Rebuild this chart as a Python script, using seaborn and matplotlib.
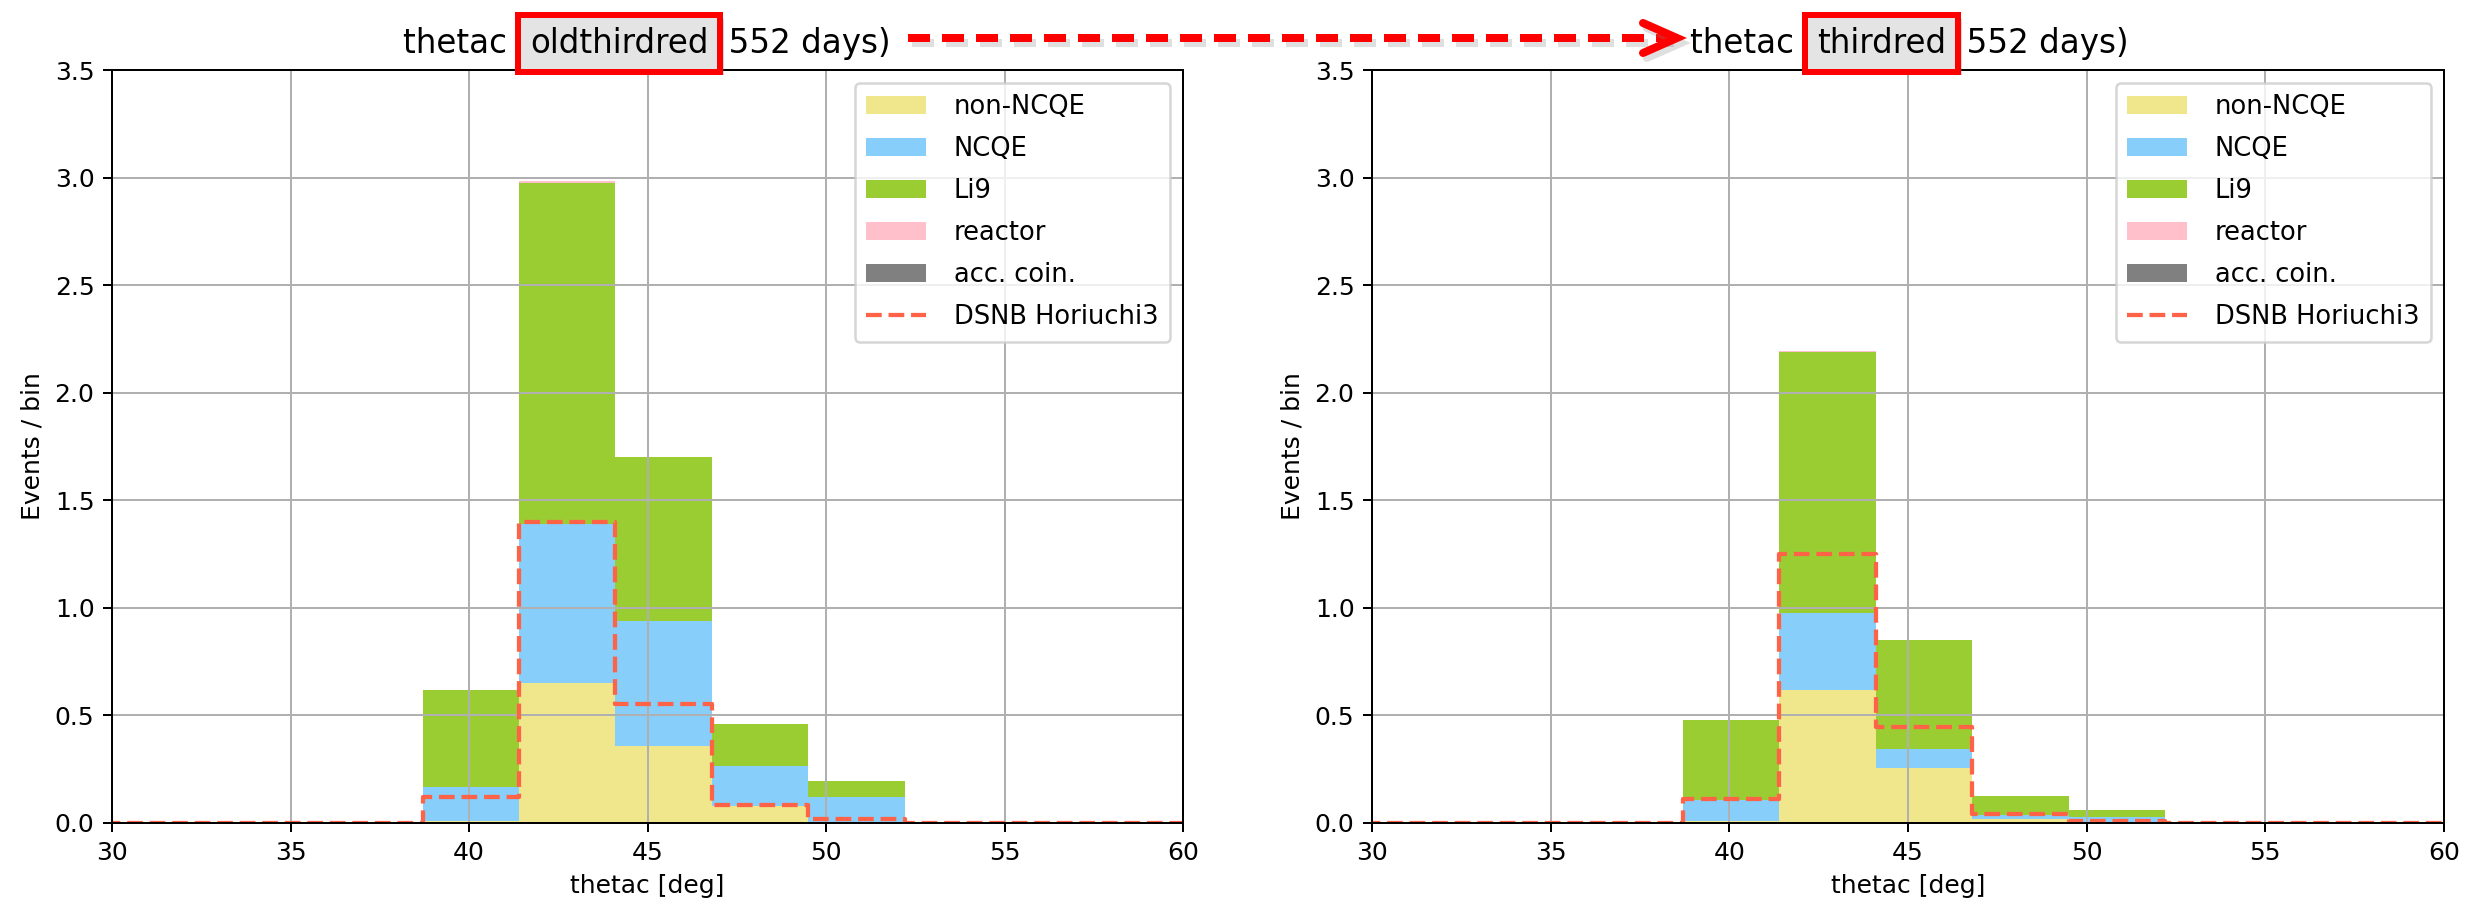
import numpy as np
import pandas as pd
import matplotlib
matplotlib.use("Agg")
import matplotlib.pyplot as plt
import seaborn as sns
from matplotlib.patches import Patch
from matplotlib.lines import Line2D
import matplotlib.patheffects as pe

# ---------------- data ----------------
bin_edges = [27.9, 30.6, 33.3, 36.0, 38.7, 41.4, 44.1, 46.8, 49.5, 52.2, 54.9, 57.6, 60.3]
components = ["non-NCQE", "NCQE", "Li9", "reactor", "acc. coin."]
comp_colors = ["khaki", "lightskyblue", "yellowgreen", "pink", "gray"]

# left panel: oldthirdred (per-component contributions per bin)
old_non_ncqe = [0, 0, 0, 0, 0.011, 0.652, 0.360, 0.081, 0.004, 0, 0, 0]
old_ncqe     = [0, 0, 0, 0, 0.155, 0.740, 0.580, 0.185, 0.116, 0, 0, 0]
old_li9      = [0, 0, 0, 0, 0.454, 1.585, 0.760, 0.192, 0.077, 0, 0, 0]
old_reactor  = [0, 0, 0, 0, 0.0, 0.005, 0.0, 0.0, 0.0, 0, 0, 0]
old_acc      = [0, 0, 0, 0, 0.0, 0.0, 0.0, 0.0, 0.0, 0, 0, 0]
old_dsnb     = [0, 0, 0, 0, 0.123, 1.400, 0.552, 0.084, 0.019, 0, 0, 0]

# right panel: thirdred
new_non_ncqe = [0, 0, 0, 0, 0.009, 0.617, 0.255, 0.019, 0.005, 0, 0, 0]
new_ncqe     = [0, 0, 0, 0, 0.096, 0.361, 0.091, 0.016, 0.023, 0, 0, 0]
new_li9      = [0, 0, 0, 0, 0.373, 1.212, 0.503, 0.091, 0.032, 0, 0, 0]
new_reactor  = [0, 0, 0, 0, 0.0, 0.004, 0.0, 0.0, 0.0, 0, 0, 0]
new_acc      = [0, 0, 0, 0, 0.0, 0.0, 0.0, 0.0, 0.0, 0, 0, 0]
new_dsnb     = [0, 0, 0, 0, 0.113, 1.252, 0.447, 0.044, 0.008, 0, 0, 0]

panel_tags = ["oldthirdred", "thirdred"]
livetime_label = "552 days"
x_ticks = [30, 35, 40, 45, 50, 55, 60]
y_ticks = [0.0, 0.5, 1.0, 1.5, 2.0, 2.5, 3.0, 3.5]

# ---------------- figure ----------------
W, H, DPI = 2476, 907, 180
fig = plt.figure(figsize=(W / DPI, H / DPI), dpi=DPI)
ax_l = fig.add_axes([112 / W, 84 / H, 1071 / W, 753 / H])
ax_r = fig.add_axes([1372 / W, 84 / H, 1072 / W, 753 / H])

edges_arr = np.array(bin_edges)
centers = list(0.5 * (edges_arr[:-1] + edges_arr[1:]))
palette = dict(zip(components, comp_colors))
stack_order = components[::-1]  # seaborn stacks first hue level on top


def draw_panel(ax, parts, dsnb):
    rows = []
    for comp, vals in zip(components, parts):
        for c, v in zip(centers, vals):
            rows.append({"theta": c, "events": v, "component": comp})
    df = pd.DataFrame(rows)
    sns.histplot(data=df, x="theta", weights="events", hue="component",
                 hue_order=stack_order, palette=palette, bins=list(bin_edges),
                 multiple="stack", alpha=1, linewidth=0, legend=False, ax=ax)
    dd = pd.DataFrame({"theta": centers, "events": dsnb})
    sns.histplot(data=dd, x="theta", weights="events", bins=list(bin_edges),
                 element="step", fill=False, color="tomato", linestyle="--",
                 linewidth=1.7, ax=ax)
    ax.set_xlim(30, 60)
    ax.set_ylim(0, 3.5)
    ax.set_xticks(x_ticks)
    ax.set_yticks(y_ticks)
    ax.grid(True, color="#b0b0b0", linewidth=0.8)
    ax.set_xlabel("thetac [deg]", fontsize=10)
    ax.set_ylabel("Events / bin", fontsize=10)
    ax.tick_params(labelsize=10)
    for s in ax.spines.values():
        s.set_visible(True)
        s.set_color("black")
    handles = [Patch(facecolor=c, edgecolor="none", label=n) for n, c in zip(components, comp_colors)]
    handles.append(Line2D([], [], color="tomato", linestyle="--", linewidth=1.7, label="DSNB Horiuchi3"))
    ax.legend(handles=handles, loc="upper right", fontsize=10.3, labelspacing=0.62,
              handlelength=2.3, handletextpad=1.1, borderpad=0.45)


draw_panel(ax_l, [old_non_ncqe, old_ncqe, old_li9, old_reactor, old_acc], old_dsnb)
draw_panel(ax_r, [new_non_ncqe, new_ncqe, new_li9, new_reactor, new_acc], new_dsnb)


def boxed_title(ax, x_px, tag):
    y = 1 - 53 / H
    t1 = ax.annotate("thetac (", xy=(x_px / W, y), xycoords="figure fraction",
                     ha="left", va="baseline", fontsize=13, zorder=5)
    t2 = ax.annotate(tag, xy=(1, 0), xycoords=t1, ha="left", va="bottom",
                     fontsize=13, zorder=10,
                     bbox=dict(boxstyle="square,pad=0.36", facecolor="#e4e4e4",
                               edgecolor="red", linewidth=2.4))
    t2.get_bbox_patch().set_path_effects([
        pe.SimplePatchShadow(offset=(1.5, -1.5), shadow_rgbFace="gray", alpha=0.3),
        pe.Normal()])
    ax.annotate(", " + livetime_label + ")", xy=(1, 0), xycoords=t2, ha="left",
                va="bottom", fontsize=13, zorder=5)


boxed_title(ax_l, 403, panel_tags[0])
boxed_title(ax_r, 1690, panel_tags[1])

# dashed red arrow between the two titles
ay = 1 - 38 / H
shadow = [pe.SimpleLineShadow(offset=(1.5, -2), shadow_color="gray", alpha=0.25), pe.Normal()]
fig.add_artist(Line2D([908 / W, 1670 / W], [ay, ay], transform=fig.transFigure,
                      color="red", linewidth=3.2, linestyle=(0, (2.75, 1.5)),
                      dash_capstyle="butt", path_effects=shadow))
fig.add_artist(Line2D([1643 / W, 1677 / W, 1643 / W],
                      [1 - 23 / H, ay, 1 - 53 / H], transform=fig.transFigure,
                      color="red", linewidth=3.2, solid_capstyle="round",
                      solid_joinstyle="miter", path_effects=shadow))

fig.savefig("out.png", dpi=DPI)
